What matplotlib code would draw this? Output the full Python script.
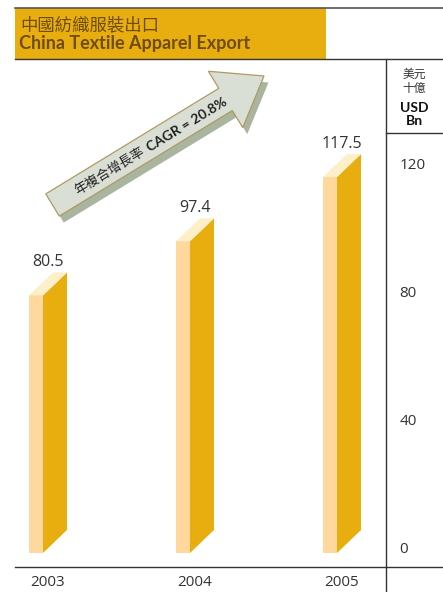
import numpy as np
import matplotlib
matplotlib.use("Agg")
import matplotlib.pyplot as plt
from matplotlib.patches import Polygon, Rectangle

# ---------------- data ----------------
years = ["2003", "2004", "2005"]
values = [80.5, 97.4, 117.5]
value_labels = ["80.5", "97.4", "117.5"]
ticks = [0, 40, 80, 120]
title_zh = "中國紡織服裝出口"
title_en = "China Textile Apparel Export"
unit_zh = ["美元", "十億"]
unit_en = ["USD", "Bn"]
cagr_zh = "年複合增長率"
cagr_en = "CAGR = 20.8%"

# ---------------- style ----------------
W, H = 443, 592
FONT = ["Open Sans", "Noto Sans CJK TC", "DejaVu Sans"]
BOLD = ["Lato", "DejaVu Sans"]
CJK = ["Noto Sans CJK TC", "DejaVu Sans"]
GOLD = "#E8AE10"
FRONT = "#FED89D"
TOP = "#FDF0C8"
TXT = "#333333"
BROWN = "#6E4C0C"

plt.rcParams["font.family"] = FONT
fig = plt.figure(figsize=(W / 100, H / 100), dpi=100)

# chart axes: pixel box x 15..386, y 59..567 ; value 0 at y=553, 3.2 px/unit
px_per_unit = 3.2
y0_px = 553
ax = fig.add_axes([15 / W, (H - 567) / H, (386 - 15) / W, (567 - 59) / H])
ax.set_ylim((y0_px - 567) / px_per_unit, (y0_px - 59) / px_per_unit)
bar_step = 147.0
ax.set_xlim((15 - 48) / bar_step, (386 - 48) / bar_step)
ax.axis("off")

fw = 14 / bar_step     # front face width
dx = 24 / bar_step     # depth x
dy = 23 / px_per_unit  # depth y (value units)
for i, (v, lab) in enumerate(zip(values, value_labels)):
    x0 = i - (fw + dx) / 2
    front = Rectangle((x0, 0), fw, v, facecolor=FRONT, edgecolor="none")
    side = Polygon([(x0 + fw, 0), (x0 + fw + dx, dy), (x0 + fw + dx, v + dy), (x0 + fw, v)],
                   closed=True, facecolor=GOLD, edgecolor="none")
    top = Polygon([(x0, v), (x0 + fw, v), (x0 + fw + dx, v + dy), (x0 + dx, v + dy)],
                  closed=True, facecolor=TOP, edgecolor="none")
    for p in (front, side, top):
        ax.add_patch(p)
    ax.annotate(lab, (i, v + dy), xytext=(0, 4.5), textcoords="offset points",
                ha="center", va="baseline", fontsize=11.5, color=TXT)
    ax.annotate(years[i], (i, 0), xytext=(0, -30), textcoords="offset pixels",
                ha="center", va="center", fontsize=11, color=TXT, annotation_clip=False)

# right-hand value scale
for t in ticks:
    ax.annotate(str(t), (1.0, t), xycoords=("axes fraction", "data"),
                xytext=(13.5, 0), textcoords="offset pixels",
                ha="left", va="baseline", fontsize=11, color=TXT, annotation_clip=False)

# ---------------- overlay in pixel coordinates ----------------
ov = fig.add_axes([0, 0, 1, 1], zorder=5)
ov.set_xlim(0, W)
ov.set_ylim(H, 0)
ov.axis("off")
ov.patch.set_alpha(0)

# title box
ov.add_patch(Rectangle((15, 8), 326 - 15, 59 - 8, facecolor=GOLD, edgecolor="none"))
ov.plot([15, W], [8, 8], color="#555555", lw=1.2)
ov.plot([15, W], [59, 59], color="#333333", lw=1.0)
ov.plot([386, 386], [59, H], color="#333333", lw=1.0)
ov.plot([386, W], [133, 133], color="#333333", lw=1.0)
ov.plot([15, W], [567, 567], color="#333333", lw=1.0)

ov.text(20, 25, title_zh, family=CJK, fontsize=12.5, color=BROWN, va="center", ha="left")
ov.text(19, 43, title_en, family=BOLD, fontsize=13, fontweight="bold", color=BROWN,
        va="center", ha="left")

ov.text(414, 74, unit_zh[0], family=CJK, fontsize=8.5, color=TXT, ha="center", va="center")
ov.text(414, 88, unit_zh[1], family=CJK, fontsize=8.5, color=TXT, ha="center", va="center")
ov.text(414, 108, unit_en[0], family=BOLD, fontsize=10, fontweight="bold", color="#111111",
        ha="center", va="center")
ov.text(414, 121, unit_en[1], family=BOLD, fontsize=10, fontweight="bold", color="#111111",
        ha="center", va="center")

# growth arrow
tail = np.array([52.5, 205.0])
tip = np.array([264.0, 76.0])
shaft_w, head_w, head_l = 26.0, 66.0, 45.0
u = (tip - tail) / np.linalg.norm(tip - tail)
n = np.array([-u[1], u[0]])
hb = tip - u * head_l
pts = [tail + n * shaft_w / 2, hb + n * shaft_w / 2, hb + n * head_w / 2, tip,
       hb - n * head_w / 2, hb - n * shaft_w / 2, tail - n * shaft_w / 2]
shadow = [p + np.array([4.5, 6.5]) for p in pts]
ov.add_patch(Polygon(shadow, closed=True, facecolor="#A9B59E", edgecolor="none"))
ov.add_patch(Polygon(pts, closed=True, facecolor="#DADFD6", edgecolor="#B09A62", lw=0.9))

ang = np.degrees(np.arctan2(-u[1], u[0]))
split = np.array([146.0, 150.0])
ov.text(split[0] - 2, split[1] + 1.2, cagr_zh, family=CJK, fontsize=9.5, color="#222222",
        rotation=ang, rotation_mode="anchor", ha="right", va="center")
ov.text(split[0] + 2, split[1] - 1.2, cagr_en, family=BOLD, fontsize=10, fontweight="bold",
        color="#222222", rotation=ang, rotation_mode="anchor", ha="left", va="center")

fig.savefig("out.png", dpi=100)
